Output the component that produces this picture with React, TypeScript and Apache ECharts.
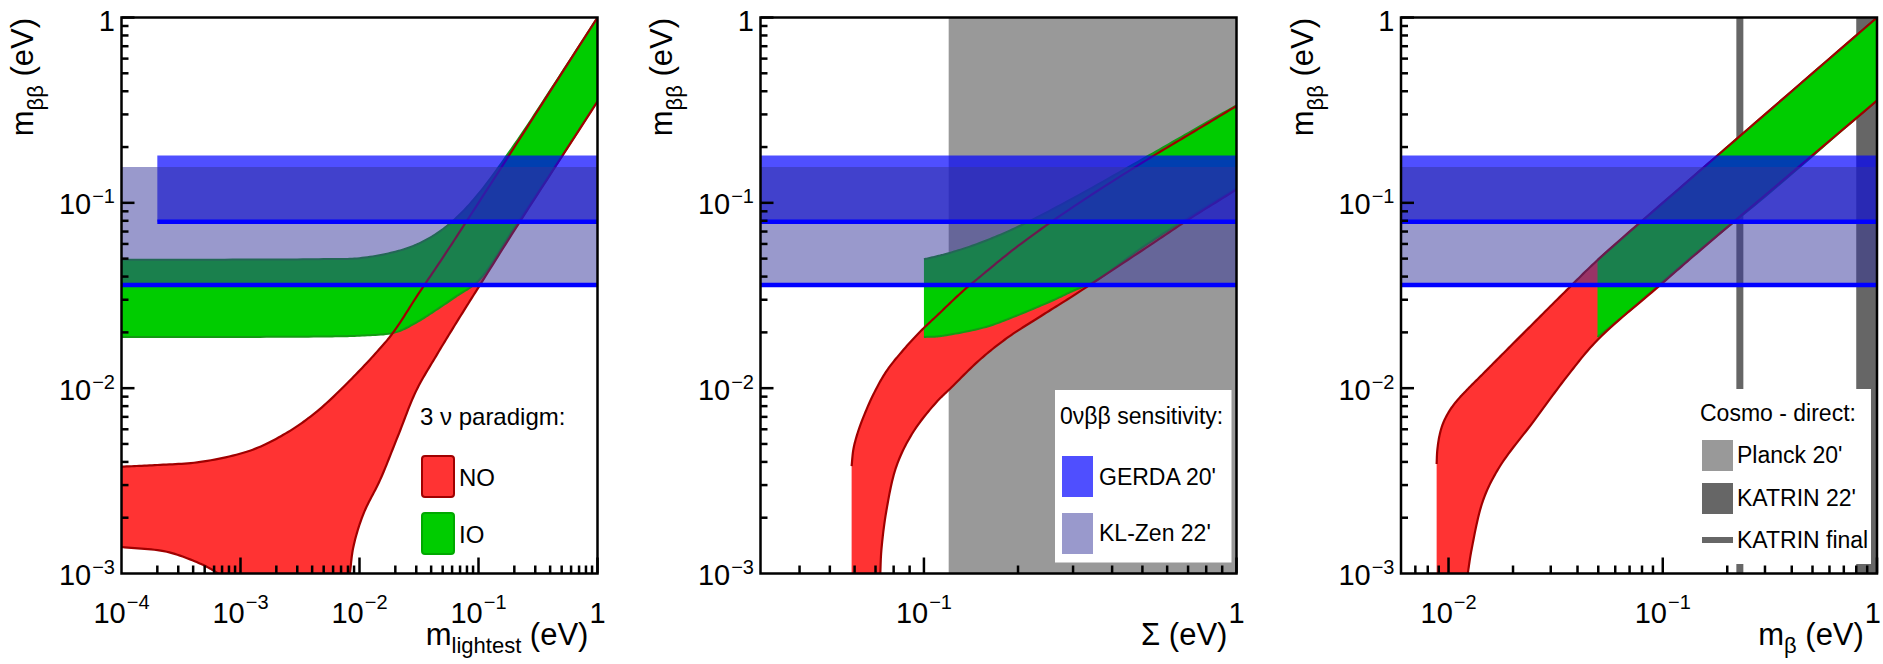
import React, { useEffect, useRef } from 'react';
import * as echarts from 'echarts';

const FONT_FAMILY = '"Liberation Sans", Arial, Helvetica, sans-serif';

// ---------- axis ranges ----------
const Y_MIN = 0.001;
const Y_MAX = 1;
const X_MAX = 1;
const p1XMin = 1e-4;
const p2XMin = 0.03;
const p3XMin = 0.006;

// ---------- tick labels (powers of ten) ----------
const yLabelExps = [-3, -2, -1, 0];
const p1XLabelExps = [-4, -3, -2, -1, 0];
const p2XLabelExps = [-1, 0];
const p3XLabelExps = [-2, -1, 0];

// ---------- 0vbb sensitivities (eV) ----------
const gerdaRange = [0.079, 0.18];
const klzenRange = [0.036, 0.156];
const p1GerdaStart = 2e-4;

// ---------- cosmology / direct limits (eV) ----------
const planckSigmaRange = [0.12, 1];
const katrin22Range = [0.8, 1];
const katrinFinal = 0.229;

// ---------- Panel 1 : m_lightest ----------
const p1NoUpper = [[1e-4, 0.00377], [2e-4, 0.00385], [4.6e-4, 0.004], [1.2e-3, 0.0046], [2.4e-3, 0.0057], [4.4e-3, 0.0075], [8.3e-3, 0.011], [0.014, 0.0157], [0.019, 0.0198], [0.032, 0.033], [0.05, 0.0505], [0.1, 0.1], [1, 1]];
const p1NoLowerLeft = [[1e-4, 0.00139], [2.4e-4, 0.00131], [4.6e-4, 0.00113], [5.6e-4, 0.00106], [6.5e-4, 0.001]];
const p1NoLowerRight = [[8.3e-3, 0.001], [8.9e-3, 0.0014], [0.0108, 0.0021], [0.0149, 0.0032], [0.021, 0.0055], [0.03, 0.0097], [0.044, 0.0149], [0.065, 0.0225], [0.1, 0.035], [0.2, 0.071], [1, 0.352]];
const p1IoUpper = [[1e-4, 0.0493], [1e-3, 0.0494], [5e-3, 0.0497], [0.01, 0.0503], [0.02, 0.0545], [0.03, 0.0595], [0.044, 0.068], [0.065, 0.083], [0.1, 0.112], [0.2, 0.206], [0.5, 0.503], [1, 1]];
const p1IoLower = [[1e-4, 0.0189], [1e-3, 0.0189], [5e-3, 0.019], [0.01, 0.0192], [0.02, 0.02], [0.03, 0.0226], [0.044, 0.0264], [0.065, 0.0313], [0.1, 0.038], [0.2, 0.0735], [0.5, 0.178], [1, 0.355]];

// ---------- Panel 2 : Sigma ----------
const p2NoUpper = [[0.0587, 0.0038], [0.0595, 0.0047], [0.0615, 0.0058], [0.0645, 0.0072], [0.069, 0.0093], [0.076, 0.0124], [0.086, 0.0161], [0.097, 0.0201], [0.11, 0.0246], [0.133, 0.0333], [0.15, 0.0395], [0.2, 0.0585], [0.3, 0.095], [0.5, 0.165], [0.7, 0.232], [1, 0.333]];
const p2NoLower = [[0.0725, 0.001], [0.0731, 0.00134], [0.0759, 0.0022], [0.0817, 0.0038], [0.0924, 0.0058], [0.1096, 0.0084], [0.121, 0.0099], [0.15, 0.0141], [0.184, 0.0186], [0.235, 0.0243], [0.3, 0.0315], [0.5, 0.0555], [0.7, 0.081], [1, 0.118]];
const p2IoUpper = [[0.1, 0.0496], [0.11, 0.0515], [0.12, 0.0535], [0.15, 0.0605], [0.2, 0.0743], [0.3, 0.106], [0.5, 0.172], [0.7, 0.238], [1, 0.336]];
const p2IoLower = [[0.1, 0.0189], [0.11, 0.019], [0.12, 0.0194], [0.158, 0.0214], [0.2, 0.0248], [0.259, 0.0298], [0.3, 0.0335], [0.35, 0.0375], [0.5, 0.0575], [0.7, 0.083], [1, 0.12]];

// ---------- Panel 3 : m_beta ----------
const p3NoUpper = [[0.0088, 0.0039], [0.00886, 0.0046], [0.00906, 0.0055], [0.0094, 0.0064], [0.01, 0.0074], [0.0108, 0.0084], [0.0122, 0.0098], [0.01453, 0.012], [0.0174, 0.0148], [0.0249, 0.0224], [0.0356, 0.0338], [0.0496, 0.0491], [0.15, 0.15], [1, 1]];
const p3NoLower = [[0.0123, 0.001], [0.0128, 0.00134], [0.01453, 0.0025], [0.0174, 0.0038], [0.0249, 0.0066], [0.0356, 0.0115], [0.0496, 0.0182], [0.0973, 0.036], [0.15, 0.0556], [1, 0.356]];
const p3IoUpper = [[0.0496, 0.0491], [0.07, 0.0695], [0.1, 0.0995], [0.15, 0.15], [0.3, 0.3], [1, 1]];
const p3IoLower = [[0.0496, 0.0189], [0.07, 0.0262], [0.0973, 0.0366], [0.15, 0.0562], [0.3, 0.108], [1, 0.358]];

// ---------- colours ----------
const NO_FILL = '#ff3333';
const NO_LINE = '#a00000';
const IO_FILL = '#00cc00';
const IO_LINE = '#139a13';
const GERDA_FILL = 'rgba(0,0,255,0.69)';
const KLZEN_FILL = 'rgba(51,51,153,0.5)';
const LIMIT_LINE = '#0000ff';
const PLANCK_GRAY = '#999999';
const KATRIN_GRAY = '#666666';

const LABEL_FS = 29;
const SUP_FS = 20;

type Pt = number[];
interface Panel {
  xMin: number;
  xLabelExps: number[];
  noUpper: Pt[];
  noLower: Pt[][];
  ioUpper: Pt[];
  ioLower: Pt[];
  gerdaStart: number;
  xTitle: { t: string; fs: number; off: number }[];
}

const panels: Panel[] = [
  {
    xMin: p1XMin, xLabelExps: p1XLabelExps, noUpper: p1NoUpper, noLower: [p1NoLowerLeft, p1NoLowerRight],
    ioUpper: p1IoUpper, ioLower: p1IoLower, gerdaStart: p1GerdaStart,
    xTitle: [{ t: 'm', fs: 31, off: 0 }, { t: 'lightest', fs: 22, off: 7.5 }, { t: ' (eV)', fs: 31, off: 0 }],
  },
  {
    xMin: p2XMin, xLabelExps: p2XLabelExps, noUpper: p2NoUpper, noLower: [p2NoLower],
    ioUpper: p2IoUpper, ioLower: p2IoLower, gerdaStart: p2XMin,
    xTitle: [{ t: '\u03A3', fs: 31, off: 0 }, { t: ' (eV)', fs: 31, off: 0 }],
  },
  {
    xMin: p3XMin, xLabelExps: p3XLabelExps, noUpper: p3NoUpper, noLower: [p3NoLower],
    ioUpper: p3IoUpper, ioLower: p3IoLower, gerdaStart: p3XMin,
    xTitle: [{ t: 'm', fs: 31, off: 0 }, { t: '\u03B2', fs: 22, off: 7.5 }, { t: ' (eV)', fs: 31, off: 0 }],
  },
];

const gridLefts = [121.5, 760.5, 1401];
const GRID_TOP = 17.5;
const GRID_W = 476;
const GRID_H = 556;
const PAGE_W = 1883;

let measureCtx: CanvasRenderingContext2D | null = null;
function tw(text: string, size: number): number {
  if (!measureCtx) measureCtx = document.createElement('canvas').getContext('2d');
  measureCtx!.font = `${size}px ${FONT_FAMILY}`;
  return measureCtx!.measureText(text).width;
}

// centripetal Catmull-Rom through already-projected pixel points (rendering only)
function smoothPath(pts: number[][], n = 14): number[][] {
  if (pts.length < 3) return pts;
  const out: number[][] = [pts[0]];
  const dist = (a: number[], b: number[]) => Math.max(Math.sqrt(Math.hypot(b[0] - a[0], b[1] - a[1])), 1e-4);
  const mix = (a: number[], b: number[], ta: number, tb: number, t: number) => {
    const w = (t - ta) / (tb - ta);
    return [a[0] + (b[0] - a[0]) * w, a[1] + (b[1] - a[1]) * w];
  };
  for (let i = 0; i < pts.length - 1; i++) {
    const p1 = pts[i];
    const p2 = pts[i + 1];
    const p0 = pts[i - 1] || [2 * p1[0] - p2[0], 2 * p1[1] - p2[1]];
    const p3 = pts[i + 2] || [2 * p2[0] - p1[0], 2 * p2[1] - p1[1]];
    const t0 = 0;
    const t1 = t0 + dist(p0, p1);
    const t2 = t1 + dist(p1, p2);
    const t3 = t2 + dist(p2, p3);
    for (let k = 1; k <= n; k++) {
      const t = t1 + ((t2 - t1) * k) / n;
      const a1 = mix(p0, p1, t0, t1, t);
      const a2 = mix(p1, p2, t1, t2, t);
      const a3 = mix(p2, p3, t2, t3, t);
      const b1 = mix(a1, a2, t0, t2, t);
      const b2 = mix(a2, a3, t1, t3, t);
      out.push(mix(b1, b2, t1, t2, t));
    }
  }
  return out;
}

function txt(text: string, x: number, baseline: number, size: number, align = 'left') {
  return {
    type: 'text',
    x,
    y: baseline - 0.3465 * size,
    silent: true,
    style: {
      text,
      fill: '#000',
      font: `${size}px ${FONT_FAMILY}`,
      textAlign: align,
      textVerticalAlign: 'middle',
      align,
      verticalAlign: 'middle',
    },
  };
}

function baseCustom(gi: number, z: number, clip: boolean, anchor: Pt) {
  return {
    type: 'custom',
    coordinateSystem: 'cartesian2d',
    xAxisIndex: gi,
    yAxisIndex: gi,
    z,
    clip,
    silent: true,
    animation: false,
    data: [anchor],
  };
}

// band polygon: upper curve, then the lower curves backwards, then optional corner points
function bandSeries(gi: number, upper: Pt[], lowers: Pt[][], corners: Pt[], fill: string, z: number) {
  return {
    ...baseCustom(gi, z, true, upper[0]),
    renderItem: (_p: any, api: any) => {
      const pts: number[][] = [...smoothPath(upper.map((pt) => api.coord(pt)))];
      for (let s = lowers.length - 1; s >= 0; s--) {
        pts.push(...smoothPath(lowers[s].map((pt) => api.coord(pt))).reverse());
      }
      corners.forEach((c) => pts.push(api.coord(c)));
      return { type: 'polygon', shape: { points: pts }, style: { fill, stroke: 'none' } };
    },
  };
}

function lineSeries(gi: number, pts: Pt[], stroke: string, lineWidth: number, z: number, smooth = true) {
  return {
    ...baseCustom(gi, z, true, pts[0]),
    renderItem: (_p: any, api: any) => {
      const px = pts.map((pt) => api.coord(pt));
      return {
        type: 'polyline',
        shape: { points: smooth ? smoothPath(px) : px },
        style: { stroke, lineWidth, fill: 'none', lineJoin: 'round' },
      };
    },
  };
}

function rectSeries(gi: number, x0: number, x1: number, y0: number, y1: number, fill: string, z: number) {
  return {
    ...baseCustom(gi, z, true, [x0, y0]),
    renderItem: (_p: any, api: any) => {
      const a = api.coord([x0, y1]);
      const b = api.coord([x1, y0]);
      return {
        type: 'rect',
        shape: { x: a[0], y: a[1], width: b[0] - a[0], height: b[1] - a[1] },
        style: { fill },
      };
    },
  };
}

function decorSeries(gi: number, p: Panel) {
  return {
    ...baseCustom(gi, 20, false, [p.xMin, Y_MIN]),
    renderItem: (_params: any, api: any) => {
      const ch: any[] = [];
      const [L, B] = api.coord([p.xMin, Y_MIN]);
      const [R, T] = api.coord([X_MAX, Y_MAX]);
      const tickStyle = { stroke: '#000', lineWidth: 2.5 };
      // x ticks
      const e0 = Math.floor(Math.log10(p.xMin) + 1e-9);
      for (let e = e0; e <= 0; e++) {
        for (let m = 1; m <= 9; m++) {
          const v = m * Math.pow(10, e);
          if (v <= p.xMin * 1.0001 || v > X_MAX * 1.0001) continue;
          const x = api.coord([v, Y_MIN])[0];
          const len = m === 1 ? 16 : 8;
          ch.push({ type: 'line', shape: { x1: x, y1: B, x2: x, y2: B - len }, style: tickStyle });
        }
      }
      // y ticks
      for (let e = -3; e <= 0; e++) {
        for (let m = 1; m <= 9; m++) {
          const v = m * Math.pow(10, e);
          if (v <= Y_MIN * 1.0001 || v > Y_MAX * 1.0001) continue;
          const y = api.coord([p.xMin, v])[1];
          const len = m === 1 ? 13 : 7;
          ch.push({ type: 'line', shape: { x1: L, y1: y, x2: L + len, y2: y }, style: tickStyle });
        }
      }
      // frame
      ch.push({
        type: 'rect',
        shape: { x: L, y: T, width: R - L, height: B - T },
        style: { fill: 'none', stroke: '#000', lineWidth: 2.5 },
      });
      // x tick labels
      let lastLabelLeft = R;
      p.xLabelExps.forEach((exp) => {
        const x = api.coord([Math.pow(10, exp), Y_MIN])[0];
        const main = exp === 0 ? '1' : '10';
        const sup = exp === 0 ? '' : '\u2212' + Math.abs(exp);
        const wm = tw(main, LABEL_FS);
        const ws = sup ? tw(sup, SUP_FS) + 1 : 0;
        let x0 = x - (wm + ws) / 2;
        if (x0 + wm + ws > PAGE_W - 2) x0 = PAGE_W - 2 - wm - ws;
        ch.push(txt(main, x0, B + 50, LABEL_FS));
        if (sup) ch.push(txt(sup, x0 + wm + 1, B + 35, SUP_FS));
        if (exp === 0) lastLabelLeft = x0;
      });
      // y tick labels
      yLabelExps.forEach((exp) => {
        const y = api.coord([p.xMin, Math.pow(10, exp)])[1];
        const right = L - 6.5;
        if (exp === 0) {
          ch.push(txt('1', right, y + 14, LABEL_FS, 'right'));
          return;
        }
        const sup = '\u2212' + Math.abs(exp);
        const ws = tw(sup, SUP_FS);
        ch.push(txt(sup, right, y + 0.5, SUP_FS, 'right'));
        ch.push(txt('10', right - ws - 1, y + 11.5, LABEL_FS, 'right'));
      });
      // x title (right aligned, just left of the last tick label)
      const xw = p.xTitle.map((s) => tw(s.t, s.fs));
      let xs = Math.min(R - 1.5, lastLabelLeft - 1) - xw.reduce((a, b) => a + b, 0);
      p.xTitle.forEach((s, i) => {
        ch.push(txt(s.t, xs, B + 72 + s.off, s.fs));
        xs += xw[i];
      });
      // y title (rotated)
      const yParts = [{ t: 'm', fs: 31, off: 0 }, { t: '\u03B2\u03B2', fs: 22, off: 10 }, { t: ' (eV)', fs: 31, off: 0 }];
      const yw = yParts.map((s) => tw(s.t, s.fs));
      let lx = -yw.reduce((a, b) => a + b, 0);
      const yChildren: any[] = [];
      yParts.forEach((s, i) => {
        yChildren.push(txt(s.t, lx, s.off, s.fs));
        lx += yw[i];
      });
      ch.push({ type: 'group', x: L - 88, y: T + 0.5, rotation: Math.PI / 2, children: yChildren });
      return { type: 'group', children: ch };
    },
  };
}

function buildSeries() {
  const series: any[] = [];
  panels.forEach((p, gi) => {
    // excluded regions
    if (gi === 1) series.push(rectSeries(gi, planckSigmaRange[0], planckSigmaRange[1], Y_MIN, Y_MAX, PLANCK_GRAY, 1));
    if (gi === 2) {
      series.push(rectSeries(gi, katrin22Range[0], katrin22Range[1], Y_MIN, Y_MAX, KATRIN_GRAY, 1));
      series.push(lineSeries(gi, [[katrinFinal, Y_MIN], [katrinFinal, Y_MAX]], KATRIN_GRAY, 7, 1, false));
    }
    // NO band
    const corners: Pt[] = p.noLower[0][0][0] > p.noUpper[0][0] * 1.0001 ? [[p.noUpper[0][0], Y_MIN]] : [];
    series.push(bandSeries(gi, p.noUpper, p.noLower, corners, NO_FILL, 2));
    // IO band
    series.push(bandSeries(gi, p.ioUpper, [p.ioLower], [], IO_FILL, 3));
    series.push(lineSeries(gi, p.ioUpper, IO_LINE, 2, 4));
    series.push(lineSeries(gi, p.ioLower, IO_LINE, 2, 4));
    // NO edges
    series.push(lineSeries(gi, p.noUpper, NO_LINE, 2.2, 5));
    p.noLower.forEach((seg) => series.push(lineSeries(gi, seg, NO_LINE, 2.2, 5)));
    // 0vbb sensitivities
    series.push(rectSeries(gi, p.gerdaStart, X_MAX, gerdaRange[0], gerdaRange[1], GERDA_FILL, 6));
    series.push(rectSeries(gi, p.xMin, X_MAX, klzenRange[0], klzenRange[1], KLZEN_FILL, 7));
    series.push(lineSeries(gi, [[p.gerdaStart, gerdaRange[0]], [X_MAX, gerdaRange[0]]], LIMIT_LINE, 4.5, 8, false));
    series.push(lineSeries(gi, [[p.xMin, klzenRange[0]], [X_MAX, klzenRange[0]]], LIMIT_LINE, 4.5, 8, false));
    // axes decoration
    series.push(decorSeries(gi, p));
  });
  return series;
}

function legendText(text: string, x: number, yc: number, size: number) {
  return {
    type: 'text',
    x,
    y: yc,
    z: 100,
    silent: true,
    style: {
      text,
      fill: '#000',
      font: `${size}px ${FONT_FAMILY}`,
      textAlign: 'left',
      textVerticalAlign: 'middle',
      align: 'left',
      verticalAlign: 'middle',
    },
  };
}

function legendRect(x: number, y: number, w: number, h: number, fill: string, stroke?: string, r = 0) {
  return {
    type: 'rect',
    z: 100,
    silent: true,
    shape: { x, y, width: w, height: h, r },
    style: stroke ? { fill, stroke, lineWidth: 2 } : { fill },
  };
}

function buildGraphic() {
  return [
    // panel 1
    legendText('3 \u03BD paradigm:', 420, 416, 24),
    legendRect(422, 456, 32, 41, NO_FILL, NO_LINE, 3),
    legendText('NO', 459, 477, 24),
    legendRect(422, 513, 32, 41, IO_FILL, '#00a800', 3),
    legendText('IO', 459, 534, 24),
    // panel 2
    legendRect(1055, 390, 176.5, 172.5, '#ffffff'),
    legendText('0\u03BD\u03B2\u03B2 sensitivity:', 1060, 416, 23),
    legendRect(1062, 456, 31, 41, '#4f4fff'),
    legendText("GERDA 20'", 1099, 477, 23),
    legendRect(1062, 513, 31, 41, '#9999cc'),
    legendText("KL-Zen 22'", 1099, 533, 23),
    // panel 3
    legendRect(1694, 389, 177, 175, '#ffffff'),
    legendText('Cosmo - direct:', 1700, 413, 23),
    legendRect(1702, 440, 31, 31, PLANCK_GRAY),
    legendText("Planck 20'", 1737, 455, 23),
    legendRect(1702, 483, 31, 31, KATRIN_GRAY),
    legendText("KATRIN 22'", 1737, 498, 23),
    legendRect(1702, 537, 31, 6, KATRIN_GRAY),
    legendText('KATRIN final', 1737, 540, 23),
  ];
}

export default function App() {
  const ref = useRef<HTMLDivElement>(null);
  useEffect(() => {
    if (!ref.current) return;
    const chart = echarts.init(ref.current, undefined, { renderer: 'svg' });
    const axisHidden = {
      axisLine: { show: false },
      axisTick: { show: false },
      axisLabel: { show: false },
      splitLine: { show: false },
      minorTick: { show: false },
      minorSplitLine: { show: false },
    };
    chart.setOption({
      animation: false,
      backgroundColor: '#ffffff',
      textStyle: { fontFamily: FONT_FAMILY },
      grid: gridLefts.map((l) => ({
        left: l,
        top: GRID_TOP,
        width: GRID_W,
        height: GRID_H,
        containLabel: false,
        outerBoundsMode: 'none',
        show: false,
      })),
      xAxis: panels.map((p, i) => ({ type: 'log', logBase: 10, gridIndex: i, min: p.xMin, max: X_MAX, ...axisHidden })),
      yAxis: panels.map((_p, i) => ({ type: 'log', logBase: 10, gridIndex: i, min: Y_MIN, max: Y_MAX, ...axisHidden })),
      series: buildSeries(),
      graphic: { elements: buildGraphic() },
    });
    return () => chart.dispose();
  }, []);
  return (
    <div
      ref={ref}
      style={{ position: 'fixed', left: 0, top: 0, width: 1883, height: 664, background: '#fff' }}
    />
  );
}
